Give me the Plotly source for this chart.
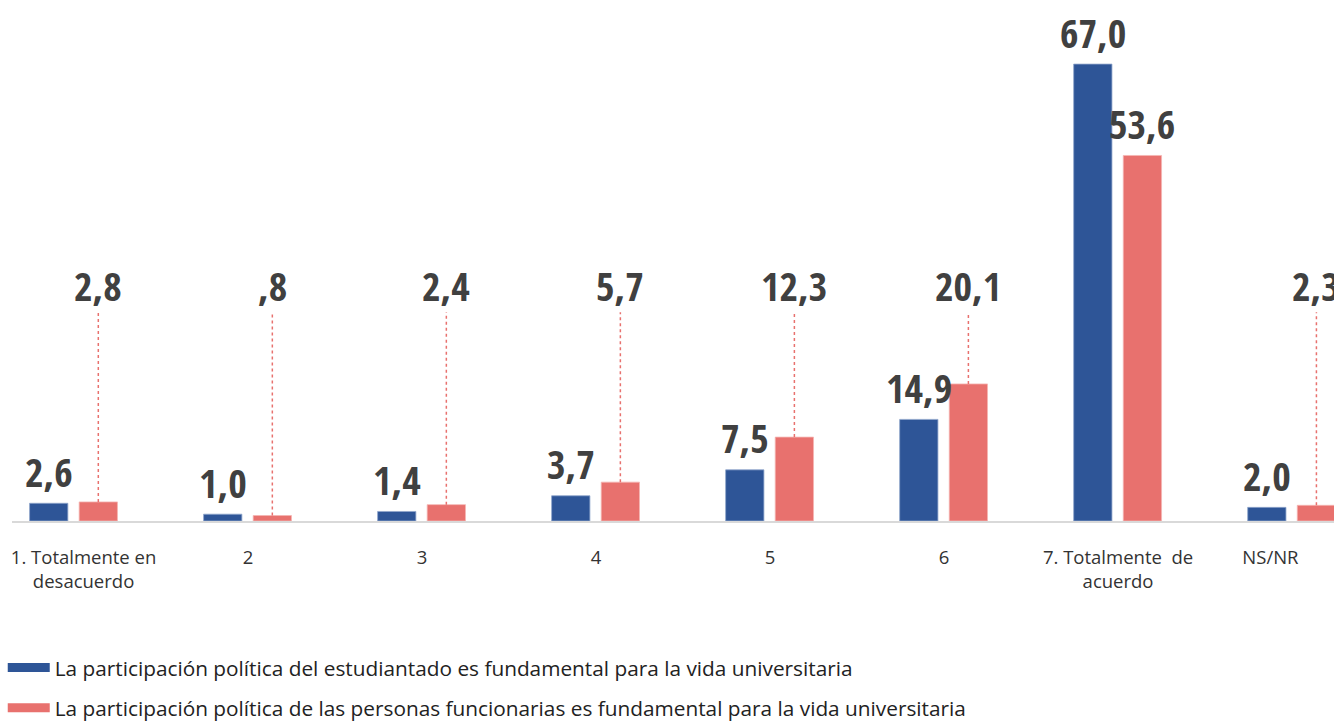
import plotly.graph_objects as go

categories = ["1. Totalmente en<br>desacuerdo", "2", "3", "4", "5", "6", "7. Totalmente  de<br>acuerdo", "NS/NR"]
estudiantado = [2.6, 1.0, 1.4, 3.7, 7.5, 14.9, 67.0, 2.0]
funcionarias = [2.8, 0.8, 2.4, 5.7, 12.3, 20.1, 53.6, 2.3]
labels_est = ["2,6", "1,0", "1,4", "3,7", "7,5", "14,9", "67,0", "2,0"]
labels_fun = ["2,8", ",8", "2,4", "5,7", "12,3", "20,1", "53,6", "2,3"]
series_names = [
    "La participación política del estudiantado es fundamental para la vida universitaria",
    "La participación política de las personas funcionarias es fundamental para la vida universitaria",
]

BLUE = "#2E5597"
RED = "#E8716E"
LABEL_LEVEL = 29.8   # raised label level for small red values
LEADER_TOP = 30.6

x_idx = list(range(len(categories)))
W = 0.22
OFF_B = -0.255
OFF_R = 0.03

# tick text, nudged like the original (first label right, last label left)
NB = "&nbsp;"
tick_text = list(categories)
tick_text[0] = "<br>".join(NB * 4 + line for line in categories[0].split("<br>"))
tick_text[-1] = categories[-1] + NB * 9

fig = go.Figure()
fig.add_trace(go.Bar(x=x_idx, y=estudiantado, width=W, offset=OFF_B,
                     marker=dict(color=BLUE, line=dict(color="#8fa6cc", width=0.8)),
                     showlegend=False))
fig.add_trace(go.Bar(x=x_idx, y=funcionarias, width=W, offset=OFF_R,
                     marker=dict(color=RED, line=dict(color="#f5b5b3", width=0.8)),
                     showlegend=False))

# leader lines for red labels
for i, v in enumerate(funcionarias):
    if v < LABEL_LEVEL:
        xc = i + OFF_R + W / 2
        fig.add_trace(go.Scatter(x=[xc, xc], y=[v, LEADER_TOP], mode="lines",
                                 line=dict(color=RED, width=1.5, dash="dot"),
                                 showlegend=False, hoverinfo="skip"))

# legend entries
fig.add_trace(go.Scatter(x=[None], y=[None], mode="lines", name=series_names[0],
                         line=dict(color=BLUE, width=9), legendgroup="a"))
fig.add_trace(go.Scatter(x=[None], y=[None], mode="lines", name=series_names[1],
                         line=dict(color=RED, width=9), legendgroup="b"))

LABEL_FONT = dict(family="Open Sans Condensed, Roboto Condensed, sans-serif",
                  size=40, color="#404040")
for i, v in enumerate(estudiantado):
    fig.add_annotation(x=i + OFF_B + W / 2, y=v, text="<b>" + labels_est[i] + "</b>",
                       showarrow=False, yanchor="middle", yshift=32, font=LABEL_FONT)
for i, v in enumerate(funcionarias):
    yv = v if v >= LABEL_LEVEL else LABEL_LEVEL
    fig.add_annotation(x=i + OFF_R + W / 2, y=yv, text="<b>" + labels_fun[i] + "</b>",
                       showarrow=False, yanchor="middle", yshift=32, font=LABEL_FONT)

fig.update_layout(
    width=1334, height=721,
    margin=dict(l=12, r=0, t=0, b=200, autoexpand=False),
    plot_bgcolor="white", paper_bgcolor="white",
    barmode="overlay",
    font=dict(family="Open Sans, Noto Sans, sans-serif", size=18, color="#333333"),
    xaxis=dict(tickmode="array", tickvals=x_idx, ticktext=tick_text,
               range=[-0.356, 7.241], showgrid=False, zeroline=False,
               showline=True, linecolor="#d9d9d9", linewidth=1.5, ticks="",
               ticklabelstandoff=19, ticklabeloverflow="allow",
               tickfont=dict(size=18.5, color="#333333")),
    yaxis=dict(range=[0, 76.4], visible=False),
    legend=dict(x=-0.007, xanchor="left", y=-0.243, yanchor="top",
                font=dict(size=20.8, color="#222222"), tracegroupgap=10,
                itemwidth=42, traceorder="grouped"),
)

fig.write_html("out.html", config={"displayModeBar": False},
               post_script="document.body.style.margin='0';document.body.style.overflow='hidden';")
